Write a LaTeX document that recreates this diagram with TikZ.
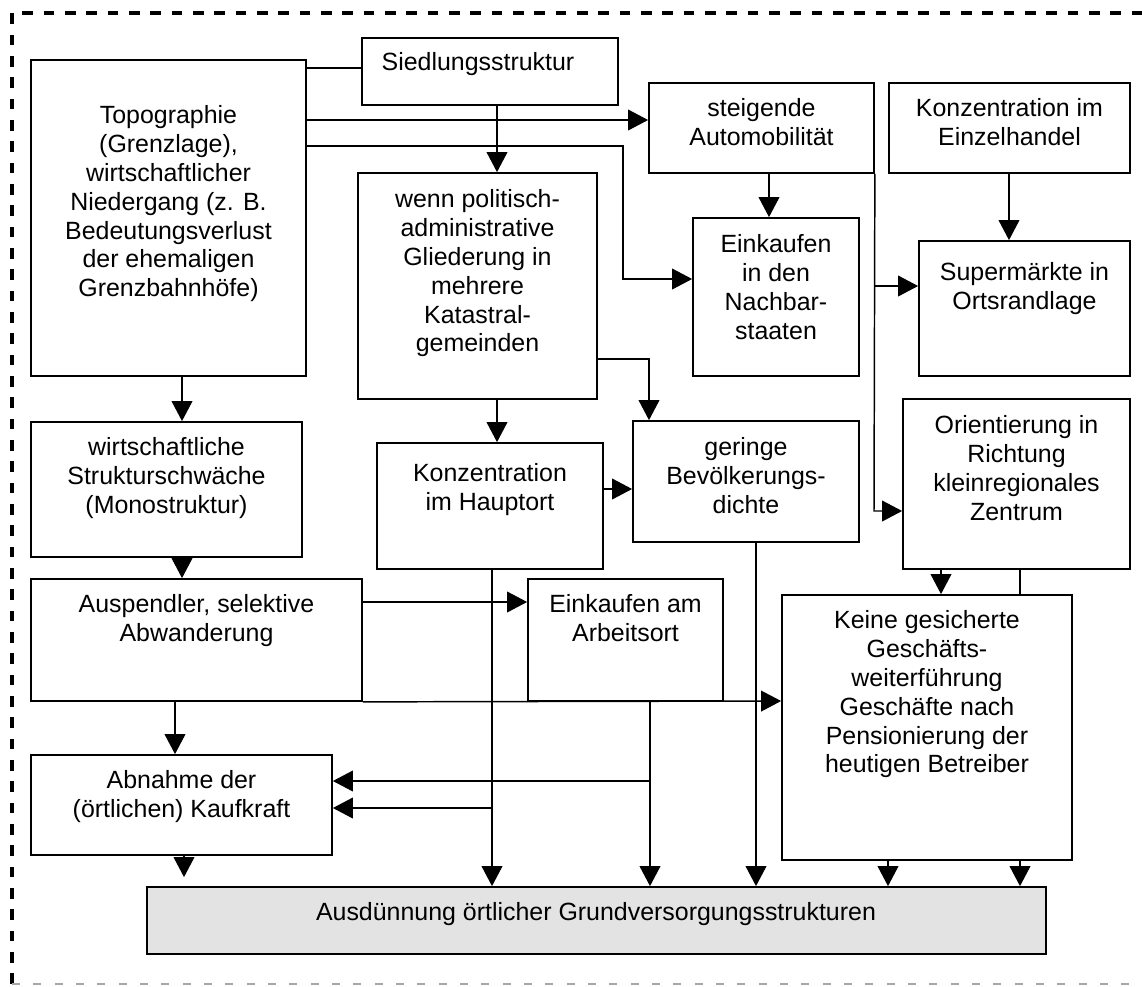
\documentclass[tikz,border=0pt]{standalone}
\usepackage{fontspec}
\setmainfont{Liberation Sans}
\usetikzlibrary{arrows.meta,fit}
\newcommand\bx[8]{%
  \node[box, fit={(#2,#3) (#4,#5)}] (#1) {};
  \node[txt, anchor=north] (#1-t) at (#6,#7-10) {\rule{0pt}{14pt}#8};}
\begin{document}
\begin{tikzpicture}[x=0.75pt,y=-0.75pt,
  box/.style={draw, line width=1.3pt, inner sep=0pt, rectangle},
  txt/.style={inner sep=0pt, align=center, font=\fontsize{18.7}{21.6}\selectfont},
  con/.style={line width=1.1pt},
  arr/.style={con, -{Triangle[length=15pt,width=15.5pt]}}]
\useasboundingbox (0,0) rectangle (1142,986);
% outer frame
\draw[line width=2.8pt, dash pattern=on 8pt off 8pt] (12,984) -- (12,13) -- (1150,13);
\draw[gray!70, line width=0.9pt, dash pattern=on 6pt off 10pt] (12,984) -- (1150,984);
% boxes
\bx{topo}{31}{60}{306}{376}{168.5}{115}{Topographie\\(Grenzlage),\\wirtschaftlicher\\Niedergang (z. B.\\Bedeutungsverlust\\der ehemaligen\\Grenzbahnhöfe)}
\bx{sied}{362}{38}{618}{105}{478}{62}{Siedlungsstruktur}
\bx{auto}{649}{83}{874}{173}{761.5}{108}{steigende\\Automobilität}
\bx{einz}{889}{83}{1130}{173}{1009.5}{108}{Konzentration im\\Einzelhandel}
\bx{nach}{693}{218}{859}{376}{776}{244}{Einkaufen\\in den\\Nachbar-\\staaten}
\bx{super}{919}{241}{1130}{376}{1024.5}{272}{Supermärkte in\\Ortsrandlage}
\bx{wenn}{358}{173}{597}{399}{477.5}{199}{wenn politisch-\\administrative\\Gliederung in\\mehrere\\Katastral-\\gemeinden}
\bx{wirt}{31}{422}{302}{557}{166.5}{447}{wirtschaftliche\\Strukturschwäche\\(Monostruktur)}
\bx{konz}{377}{443}{603}{569}{490}{473}{Konzentration\\im Hauptort}
\bx{ger}{633}{421}{859}{542}{746}{447}{geringe\\Bevölkerungs-\\dichte}
\bx{orient}{903}{399}{1130}{569}{1016.5}{425}{Orientierung in\\Richtung\\kleinregionales\\Zentrum}
\bx{ausp}{31}{579}{362}{701}{196.5}{604}{Auspendler, selektive\\Abwanderung}
\bx{arb}{528}{579}{723}{701}{625.5}{604}{Einkaufen am\\Arbeitsort}
\bx{keine}{782}{595}{1072}{860}{927}{620}{Keine gesicherte\\Geschäfts-\\weiterführung\\Geschäfte nach\\Pensionierung der\\heutigen Betreiber}
\bx{abn}{31}{755}{332}{855}{181.5}{780}{Abnahme der\\(örtlichen) Kaufkraft}
\node[box, fill=gray!22, fit={(147,887) (1046,954)}] (aus) {};
\node[txt, anchor=north] (aus-t) at (596,912-10) {\rule{0pt}{14pt}Ausdünnung örtlicher Grundversorgungsstrukturen};
% junction points
\coordinate (j1) at (874,286);
\coordinate (j2) at (492,808);
\coordinate (j3) at (650,781);
\coordinate (k1) at (623,146);
\coordinate (k2) at (623,279);
\coordinate (k3) at (874,511);
% connectors
\draw[con] (sied.west |- 0,68) -- (topo.east |- 0,68);
\draw[arr] (topo.east |- 0,120) -- (auto.west |- 0,120);
\draw[arr] (topo.east |- k1) -- (k1) -- (k2) -- (nach.west |- k2);
\draw[arr] (sied.south -| 497,0) -- (wenn.north -| 497,0);
\draw[arr] (auto.south -| 769,0) -- (nach.north -| 769,0);
\draw[arr] (auto.south east) -- (k3) -- (orient.west |- k3);
\draw[arr] (j1) -- (super.west |- j1);
\draw[arr] (einz.south -| 1009,0) -- (super.north -| 1009,0);
\draw[arr] (topo.south -| 182,0) -- (wirt.north -| 182,0);
\draw[arr] (wenn.south -| 497,0) -- (konz.north -| 497,0);
\draw[arr] (wenn.east |- 0,359) -| (ger.north -| 649,0);
\draw[arr] (konz.east |- 0,489) -- (ger.west |- 0,489);
\draw[arr] (wirt.south -| 182,0) -- (ausp.north -| 182,0);
\draw[arr] (ausp.east |- 0,602) -- (arb.west |- 0,602);
\draw[arr] (ausp.south east) -- (keine.west |- 0,701);
\draw[arr] (ausp.south -| 175,0) -- (abn.north -| 175,0);
\draw[arr, shorten >=6.75pt] (abn.south -| 184,0) -- (aus.north -| 184,0);
\draw[arr] (konz.south -| 492,0) -- (aus.north -| 492,0);
\draw[arr] (j2) -- (abn.east |- j2);
\draw[arr] (arb.south -| 650,0) -- (aus.north -| 650,0);
\draw[arr] (j3) -- (abn.east |- j3);
\draw[arr] (ger.south -| 756,0) -- (aus.north -| 756,0);
\draw[arr] (orient.south -| 941,0) -- (keine.north -| 941,0);
\draw[con] (orient.south -| 1020,0) -- (keine.north -| 1020,0);
\draw[arr] (keine.south -| 1020,0) -- (aus.north -| 1020,0);
\draw[arr] (keine.south -| 888,0) -- (aus.north -| 888,0);
\end{tikzpicture}
\end{document}
